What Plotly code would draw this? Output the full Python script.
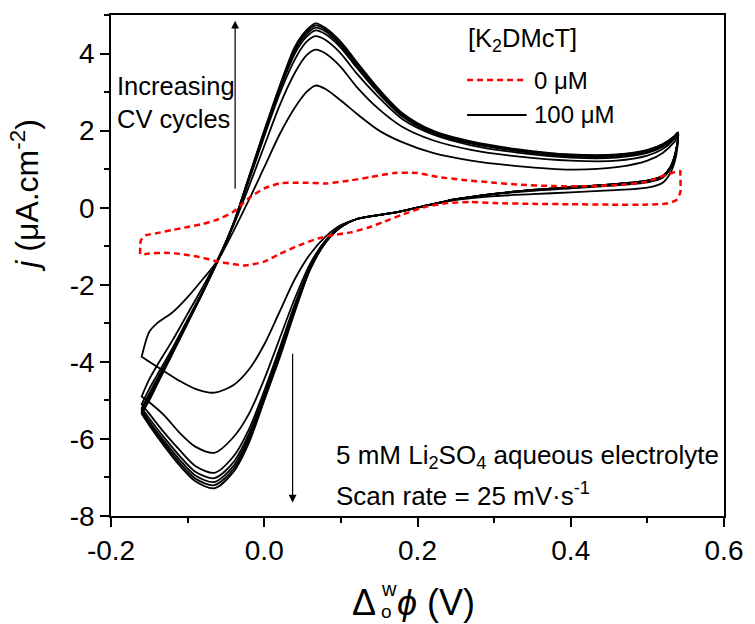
import plotly.graph_objects as go

# ---------------- data ----------------
# potentials of the anodic (forward) branch, V
E_fwd = [-0.16, -0.15, -0.14, -0.12, -0.10, -0.08, -0.06, -0.04, -0.02, 0.00, 0.02, 0.04,
         0.055, 0.067, 0.08, 0.10, 0.12, 0.15, 0.18, 0.22, 0.27, 0.33, 0.40, 0.46, 0.50,
         0.52, 0.535, 0.54]
# potentials of the cathodic (reverse) branch, V
E_rev = [0.54, 0.537, 0.53, 0.52, 0.50, 0.45, 0.40, 0.35, 0.30, 0.25, 0.20, 0.17, 0.14,
         0.12, 0.10, 0.08, 0.06, 0.04, 0.02, 0.00, -0.02, -0.04, -0.065, -0.09, -0.11,
         -0.13, -0.15, -0.16]

# 100 uM K2DMcT, successive CV cycles (current density, uA/cm2)
rev_c1 = [1.85, 1.3, 0.9, 0.65, 0.52, 0.45, 0.40, 0.35, 0.30, 0.20, 0.0, -0.13, -0.22,
          -0.30, -0.45, -0.75, -1.2, -1.85, -2.7, -3.55, -4.2, -4.6, -4.8, -4.7, -4.5,
          -4.25, -4.0, -3.87]
fwd_c1 = [-3.87, -3.22, -3.0, -2.72, -2.32, -1.85, -1.35, -0.6, 0.2, 1.05, 1.9, 2.6,
          3.0, 3.17, 3.08, 2.78, 2.45, 2.0, 1.7, 1.42, 1.22, 1.08, 0.99, 1.05, 1.22,
          1.42, 1.7, 1.85]
rev_c2 = [1.92, 1.4, 1.0, 0.78, 0.66, 0.57, 0.50, 0.44, 0.35, 0.21, 0.0, -0.13, -0.22,
          -0.30, -0.48, -0.85, -1.45, -2.35, -3.4, -4.45, -5.35, -5.95, -6.36, -6.2,
          -5.85, -5.4, -5.05, -4.9]
fwd_c2 = [-4.9, -4.45, -4.1, -3.45, -2.75, -2.05, -1.3, -0.45, 0.55, 1.6, 2.65, 3.5,
          3.95, 4.1, 4.0, 3.65, 3.15, 2.55, 2.1, 1.75, 1.5, 1.33, 1.22, 1.22, 1.35,
          1.52, 1.78, 1.92]
rev_c3 = [1.94, 1.42, 1.02, 0.80, 0.68, 0.59, 0.52, 0.45, 0.36, 0.22, 0.0, -0.13, -0.22,
          -0.30, -0.49, -0.88, -1.53, -2.5, -3.65, -4.75, -5.75, -6.45, -6.88, -6.7,
          -6.3, -5.85, -5.35, -5.1]
fwd_c3 = [-5.1, -4.7, -4.35, -3.65, -2.9, -2.15, -1.35, -0.42, 0.7, 1.85, 2.95, 3.85,
          4.3, 4.45, 4.35, 4.0, 3.5, 2.85, 2.3, 1.9, 1.62, 1.43, 1.30, 1.30, 1.42,
          1.58, 1.82, 1.94]
rev_c4 = [1.95, 1.44, 1.04, 0.81, 0.69, 0.60, 0.53, 0.46, 0.36, 0.22, 0.0, -0.13, -0.22,
          -0.30, -0.50, -0.89, -1.56, -2.56, -3.72, -4.85, -5.87, -6.6, -7.02, -6.85,
          -6.45, -5.98, -5.47, -5.2]
fwd_c4 = [-5.2, -4.82, -4.45, -3.72, -2.95, -2.17, -1.35, -0.41, 0.75, 1.92, 3.05, 4.0,
          4.43, 4.6, 4.5, 4.15, 3.65, 2.95, 2.37, 1.93, 1.66, 1.47, 1.33, 1.33, 1.45,
          1.61, 1.83, 1.95]
rev_c5 = [1.95, 1.45, 1.05, 0.82, 0.70, 0.60, 0.53, 0.46, 0.36, 0.22, 0.0, -0.13, -0.22,
          -0.30, -0.50, -0.90, -1.58, -2.6, -3.78, -4.92, -5.95, -6.7, -7.12, -6.95,
          -6.55, -6.07, -5.55, -5.25]
fwd_c5 = [-5.25, -4.88, -4.5, -3.75, -2.97, -2.18, -1.35, -0.40, 0.77, 1.96, 3.1, 4.08,
          4.5, 4.67, 4.57, 4.2, 3.7, 3.0, 2.4, 1.96, 1.68, 1.49, 1.35, 1.35, 1.47,
          1.63, 1.84, 1.95]
rev_c6 = [1.95, 1.45, 1.05, 0.82, 0.70, 0.60, 0.53, 0.46, 0.36, 0.22, 0.0, -0.13, -0.22,
          -0.30, -0.50, -0.90, -1.59, -2.65, -3.84, -4.97, -6.03, -6.78, -7.2, -7.03,
          -6.63, -6.14, -5.6, -5.3]
fwd_c6 = [-5.3, -4.94, -4.55, -3.78, -2.98, -2.19, -1.35, -0.40, 0.79, 1.98, 3.12, 4.13,
          4.56, 4.73, 4.62, 4.25, 3.75, 3.03, 2.43, 1.98, 1.70, 1.50, 1.37, 1.37, 1.49,
          1.64, 1.85, 1.95]
rev_c7 = [1.95, 1.45, 1.05, 0.82, 0.70, 0.60, 0.53, 0.46, 0.36, 0.22, 0.0, -0.13, -0.22,
          -0.30, -0.50, -0.90, -1.6, -2.7, -3.9, -5.0, -6.1, -6.85, -7.28, -7.1,
          -6.7, -6.2, -5.65, -5.35]
fwd_c7 = [-5.35, -5.0, -4.6, -3.8, -3.0, -2.2, -1.35, -0.40, 0.8, 2.0, 3.15, 4.18,
          4.6, 4.78, 4.66, 4.3, 3.8, 3.07, 2.46, 2.0, 1.72, 1.52, 1.38, 1.38, 1.50,
          1.65, 1.85, 1.95]

# 0 uM (blank electrolyte): anodic branch then cathodic branch
E_blank_fwd = [-0.162, -0.161, -0.155, -0.14, -0.12, -0.10, -0.08, -0.06, -0.04, -0.02,
               0.00, 0.02, 0.05, 0.08, 0.11, 0.14, 0.17, 0.20, 0.226, 0.26, 0.30, 0.33,
               0.38, 0.43, 0.47, 0.50, 0.52, 0.535, 0.543]
j_blank_fwd = [-1.2, -0.85, -0.72, -0.66, -0.58, -0.5, -0.42, -0.3, -0.1, 0.25,
               0.5, 0.63, 0.65, 0.63, 0.7, 0.8, 0.9, 0.9, 0.8, 0.72, 0.65, 0.6,
               0.56, 0.56, 0.6, 0.68, 0.82, 0.92, 0.95]
E_blank_rev = [0.543, 0.543, 0.538, 0.525, 0.50, 0.45, 0.40, 0.35, 0.30, 0.27, 0.24,
               0.21, 0.18, 0.157, 0.135, 0.113, 0.09, 0.07, 0.045, 0.02, 0.00, -0.025,
               -0.045, -0.06, -0.085, -0.11, -0.13, -0.15, -0.162]
j_blank_rev = [0.9, 0.4, 0.2, 0.11, 0.08, 0.08, 0.09, 0.10, 0.12, 0.15, 0.12,
               0.02, -0.18, -0.36, -0.52, -0.64, -0.71, -0.8, -0.98, -1.2, -1.4, -1.5,
               -1.45, -1.4, -1.28, -1.2, -1.17, -1.19, -1.22]

x_tickvals = [-0.2, 0.0, 0.2, 0.4, 0.6]
x_ticktext = ["-0.2", "0.0", "0.2", "0.4", "0.6"]
y_tickvals = [-8, -6, -4, -2, 0, 2, 4]
y_ticktext = ["-8", "-6", "-4", "-2", "0", "2", "4"]

legend_title = "[K<sub>2</sub>DMcT]"
legend_names = ["0 μM", "100 μM"]
note_cycles = "Increasing<br>CV cycles"
note_electrolyte = "5 mM Li<sub>2</sub>SO<sub>4</sub> aqueous electrolyte"
note_scan = "Scan rate = 25 mV·s<sup>-1</sup>"

# ---------------- figure ----------------
W, H = 755, 624
L, R, T, B = 111, 729, 15, 516
FONT = "Arial, Liberation Sans, sans-serif"


def px(xp):
    return (xp - L) / (R - L)


def py(yp):
    return (B - yp) / (B - T)


fig = go.Figure()

cycles = [(rev_c1, fwd_c1), (rev_c2, fwd_c2), (rev_c3, fwd_c3), (rev_c4, fwd_c4),
          (rev_c5, fwd_c5), (rev_c6, fwd_c6), (rev_c7, fwd_c7)]
for i, (rv, fw) in enumerate(cycles):
    fig.add_trace(go.Scatter(
        x=E_rev + E_fwd, y=rv + fw, mode="lines",
        line=dict(color="black", width=1.8, shape="spline", smoothing=0.8),
        name=legend_names[1], showlegend=False, hoverinfo="skip"))

fig.add_trace(go.Scatter(
    x=E_blank_fwd + E_blank_rev, y=j_blank_fwd + j_blank_rev, mode="lines",
    line=dict(color="#ff0000", width=2.5, dash="6px,4px", shape="spline", smoothing=0.6),
    name=legend_names[0], showlegend=False, hoverinfo="skip"))

axis_common = dict(showline=True, linecolor="black", linewidth=1.5, mirror=True,
                   ticks="outside", ticklen=9, tickwidth=1.5, tickcolor="black",
                   showgrid=False, zeroline=False,
                   tickfont=dict(family=FONT, size=28, color="black"))

fig.update_xaxes(range=[-0.2, 0.6], tickvals=x_tickvals, ticktext=x_ticktext,
                 minor=dict(dtick=0.1, ticks="outside", ticklen=5, tickwidth=1.5,
                            tickcolor="black"),
                 **axis_common)
fig.update_yaxes(range=[-8, 5], tickvals=y_tickvals, ticktext=y_ticktext,
                 minor=dict(dtick=1, ticks="outside", ticklen=5, tickwidth=1.5,
                            tickcolor="black"),
                 **axis_common)

ann = []


def text(t, xp, yp, size, **kw):
    ann.append(dict(text=t, x=px(xp), y=py(yp), xref="paper", yref="paper",
                    xanchor=kw.pop("xanchor", "left"), yanchor=kw.pop("yanchor", "middle"),
                    showarrow=False, font=dict(family=FONT, size=size, color="black"), **kw))


# legend
text(legend_title, 469, 40, 25.5)
text(legend_names[0], 535, 80, 24)
text(legend_names[1], 535, 115, 24)
# notes
text(note_cycles, 115, 102, 25.5, align="left")
text(note_electrolyte, 336, 456, 26)
text(note_scan, 336, 494, 26)
# y title
text("<i>j</i> (μA.cm<sup>-2</sup>)", 24, 195, 32, textangle=-90, xanchor="center",
     yanchor="middle")
# x title with stacked sub/superscript
text("Δ", 352, 602, 36)
text("w", 381, 589, 20)
text("o", 381, 611, 19)
text("<i>ϕ</i> (V)", 397, 602, 36)

# arrows (data coordinates of the hand-drawn arrows)
ann.append(dict(x=-0.038, y=4.85, ax=-0.038, ay=0.45, xref="x", yref="y",
                axref="x", ayref="y", text="", showarrow=True, arrowhead=2,
                arrowsize=1.3, arrowwidth=1.2, arrowcolor="black"))
ann.append(dict(x=0.037, y=-7.65, ax=0.037, ay=-3.75, xref="x", yref="y",
                axref="x", ayref="y", text="", showarrow=True, arrowhead=2,
                arrowsize=1.3, arrowwidth=1.2, arrowcolor="black"))

shapes = [
    dict(type="line", xref="paper", yref="paper", x0=px(470), x1=px(530), y0=py(80),
         y1=py(80), line=dict(color="#ff0000", width=2.5, dash="6px,4px")),
    dict(type="line", xref="paper", yref="paper", x0=px(470), x1=px(530), y0=py(115),
         y1=py(115), line=dict(color="black", width=2)),
]

fig.update_layout(width=W, height=H, margin=dict(l=L, r=W - R, t=T, b=H - B),
                  paper_bgcolor="white", plot_bgcolor="white", showlegend=False,
                  annotations=ann, shapes=shapes)

fig.write_html("out.html")
